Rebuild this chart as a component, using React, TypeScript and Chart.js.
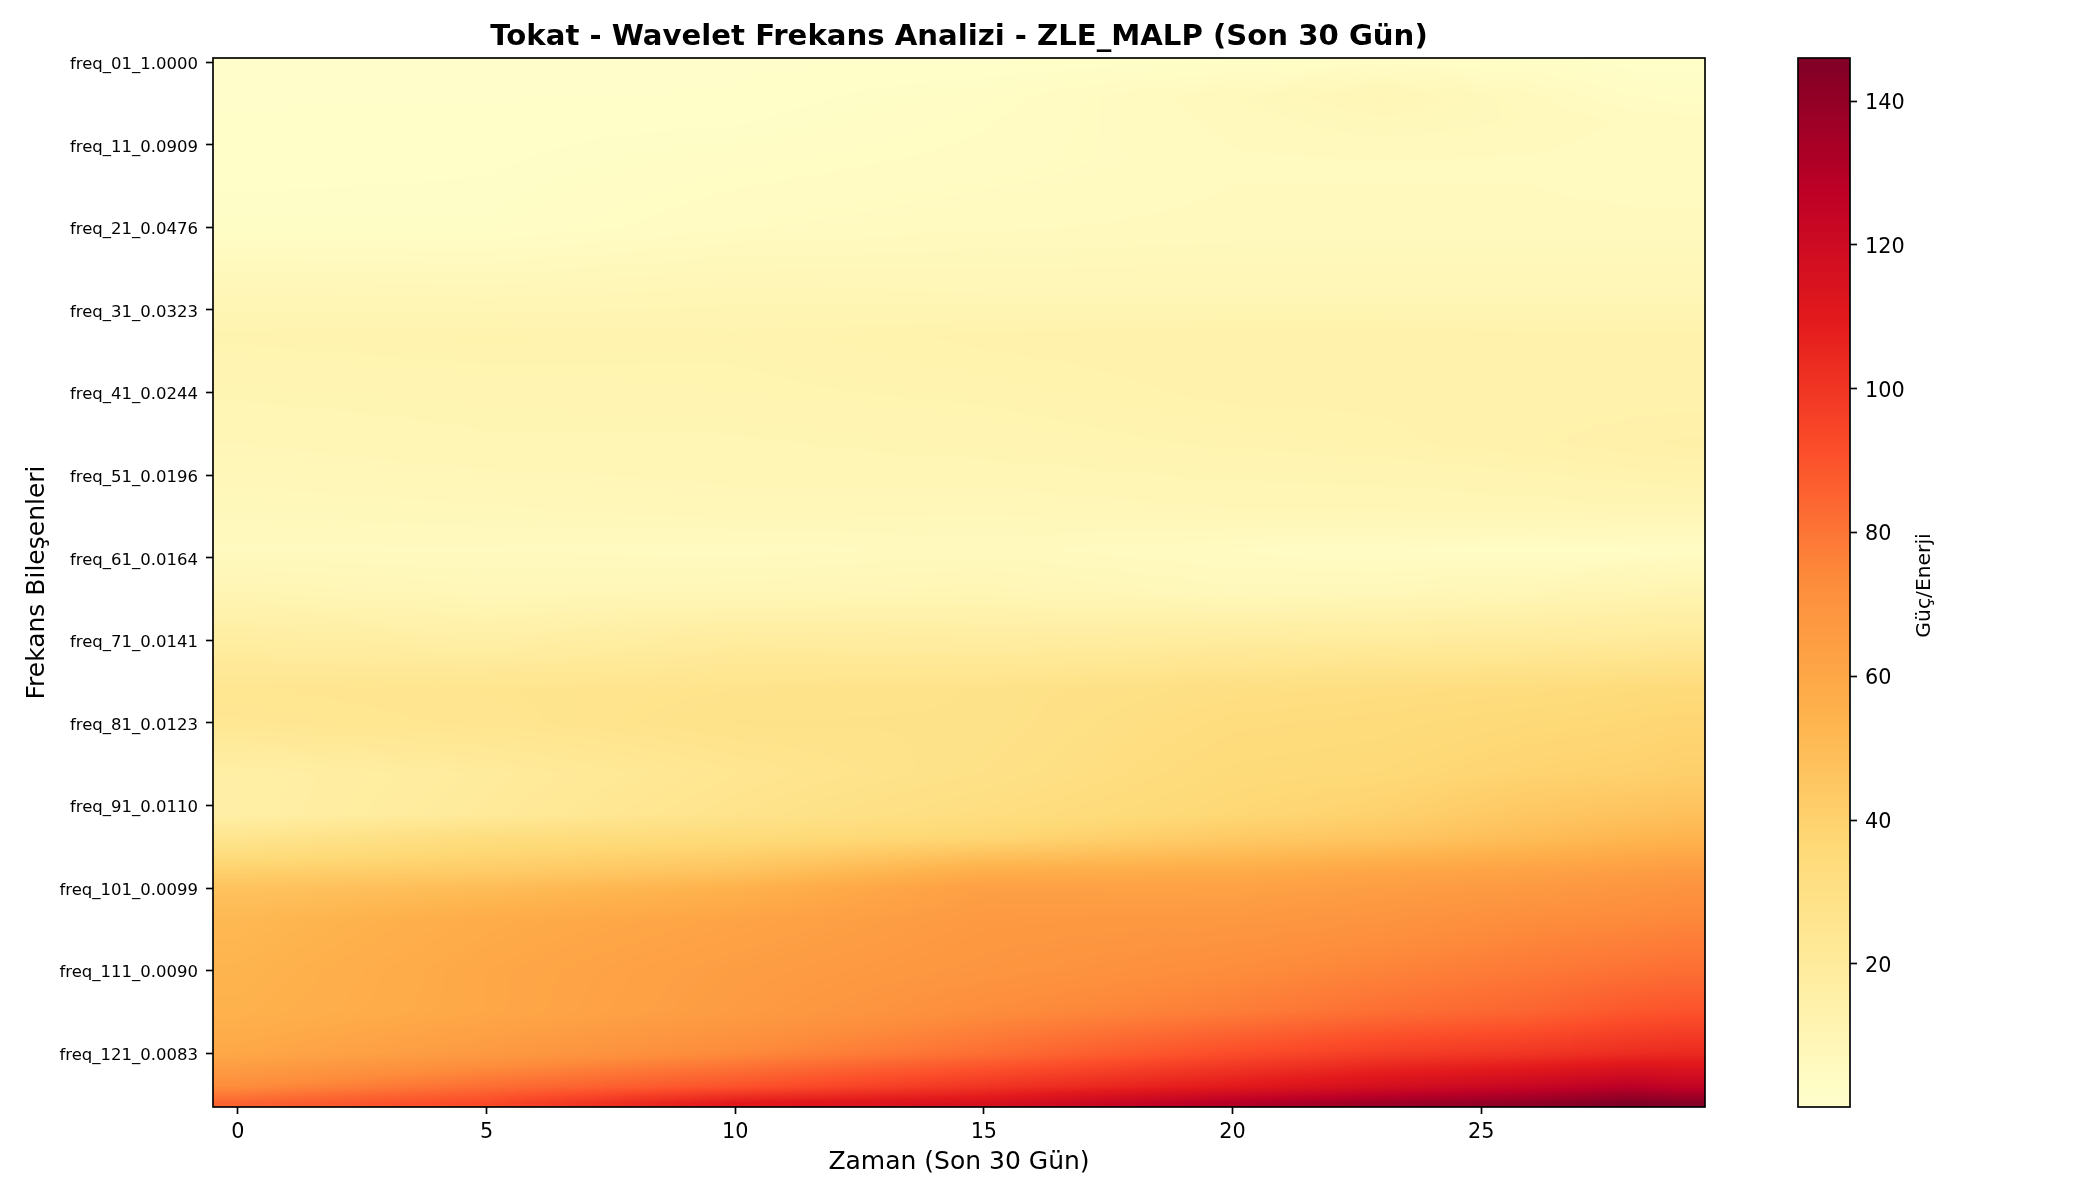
import React, { useEffect, useRef } from "react";
import { Chart, registerables } from "chart.js";

Chart.register(...registerables);

const FONT = "'DejaVu Sans'";

const chartTitle = "Tokat - Wavelet Frekans Analizi - ZLE_MALP (Son 30 Gün)";
const xAxisTitle = "Zaman (Son 30 Gün)";
const yAxisTitle = "Frekans Bileşenleri";
const colorbarTitle = "Güç/Enerji";

const xTickValues = [0, 5, 10, 15, 20, 25];
const yTickValues = [0, 10, 20, 30, 40, 50, 60, 70, 80, 90, 100, 110, 120];
const yTickLabels = [
  "freq_01_1.0000", "freq_11_0.0909", "freq_21_0.0476", "freq_31_0.0323",
  "freq_41_0.0244", "freq_51_0.0196", "freq_61_0.0164", "freq_71_0.0141",
  "freq_81_0.0123", "freq_91_0.0110", "freq_101_0.0099", "freq_111_0.0090",
  "freq_121_0.0083",
];
const colorbarTicks = [20, 40, 60, 80, 100, 120, 140];
const colorMin = 0.1;
const colorMax = 146;
const ylOrRd = ["#ffffcc", "#ffeda0", "#fed976", "#feb24c", "#fd8d3c", "#fc4e2a", "#e31a1c", "#bd0026", "#800026"];

const sampledDays = [0, 5, 10, 15, 20, 23, 26, 28, 29];
const sampledRows = [0, 4, 7, 12, 20, 28, 33, 40, 46, 54, 59, 64, 70, 76, 80, 86, 91, 94, 98, 100, 104, 110, 115, 120, 124, 126];

const row000 = [1, 1, 1, 1, 2, 3, 2.5, 1.5, 1.5];
const row004 = [1, 1, 1.2, 3, 6.5, 9, 6, 3.5, 3];
const row007 = [1.2, 1.5, 1.8, 3.5, 6, 7.5, 6.5, 5.5, 5];
const row012 = [1.5, 1.8, 3, 4, 5.5, 5.5, 5.5, 5, 5];
const row020 = [2.5, 2.5, 4.5, 5.5, 6, 6, 6, 6, 6];
const row028 = [9, 8.5, 9.5, 9, 9, 9, 9, 9, 9];
const row033 = [12, 12.5, 12, 13, 13.5, 13.5, 13, 13, 13];
const row040 = [10.5, 11, 11.5, 12, 13, 13, 13, 13, 13];
const row046 = [9, 10, 10, 11, 12, 12.5, 13.5, 14.5, 15];
const row054 = [7, 7.5, 8.5, 8, 9, 9, 9.5, 10, 10];
const row059 = [5.5, 5.5, 5, 6, 4.5, 3.5, 3, 3.2, 3.5];
const row064 = [10, 8, 8.5, 9.5, 7, 7.5, 9, 10.5, 11];
const row070 = [18, 16, 19, 18, 19, 19.5, 20, 20.5, 21];
const row076 = [25, 26, 27, 28, 31, 32, 33, 34.5, 35];
const row080 = [24, 25.5, 28, 28, 33, 34, 36, 37, 38];
const row086 = [16, 20, 25, 29, 35, 36, 39, 40, 41];
const row091 = [16, 21, 27, 32, 37, 40, 45, 47, 48];
const row094 = [26, 33, 35, 38, 44, 46, 50, 53, 54];
const row098 = [41, 43, 47, 57, 58, 61, 63, 65, 66];
const row100 = [47, 50, 55, 64, 63, 65, 67, 69, 70];
const row104 = [52, 58, 62, 67, 68, 70, 73, 74, 75];
const row110 = [54, 60, 65, 69, 73, 76, 79, 81, 82];
const row115 = [55, 60, 66, 73, 78, 82, 85, 89, 90];
const row120 = [60, 67, 74, 82, 92, 97, 100, 103, 104];
const row124 = [73, 82, 90, 100, 110, 117, 123, 128, 125];
const row126 = [85, 93, 110, 115, 130, 137, 141, 146, 144];

const rowValues = [
  row000, row004, row007, row012, row020, row028, row033, row040, row046, row054,
  row059, row064, row070, row076, row080, row086, row091, row094, row098, row100,
  row104, row110, row115, row120, row124, row126,
];

const hexToRgb = (h: string) => [1, 3, 5].map((i) => parseInt(h.slice(i, i + 2), 16));
const rampRgb = ylOrRd.map(hexToRgb);

function colorFor(v: number): number[] {
  const t = Math.min(1, Math.max(0, (v - colorMin) / (colorMax - colorMin))) * (rampRgb.length - 1);
  const i = Math.min(rampRgb.length - 2, Math.floor(t));
  const f = t - i;
  return rampRgb[i].map((c, k) => c + (rampRgb[i + 1][k] - c) * f);
}

function bracket(list: number[], value: number): [number, number] {
  if (value <= list[0]) return [0, 0];
  for (let i = 0; i < list.length - 1; i++) {
    if (value <= list[i + 1]) return [i, (value - list[i]) / (list[i + 1] - list[i])];
  }
  return [list.length - 2, 1];
}

const heatmapPoints = sampledRows.flatMap((row, r) =>
  sampledDays.map((day, c) => ({ x: day, y: row, v: rowValues[r][c] }))
);

const heatmapPlugin = {
  id: "heatmapImage",
  beforeDatasetsDraw(chart: any) {
    const { ctx, chartArea, scales } = chart;
    const w = Math.round(chartArea.right - chartArea.left);
    const h = Math.round(chartArea.bottom - chartArea.top);
    const off = document.createElement("canvas");
    off.width = w;
    off.height = h;
    const offCtx = off.getContext("2d")!;
    const img = offCtx.createImageData(w, h);
    const xs = Array.from({ length: w }, (_, px) => bracket(sampledDays, scales.x.getValueForPixel(chartArea.left + px + 0.5)));
    for (let py = 0; py < h; py++) {
      const [r, fr] = bracket(sampledRows, scales.y.getValueForPixel(chartArea.top + py + 0.5));
      const a = rowValues[r];
      const b = rowValues[r + 1] ?? a;
      for (let px = 0; px < w; px++) {
        const [c, fc] = xs[px];
        const top = a[c] + (a[c + 1] - a[c]) * fc;
        const bot = b[c] + (b[c + 1] - b[c]) * fc;
        const rgb = colorFor(top + (bot - top) * fr);
        const o = (py * w + px) * 4;
        img.data[o] = rgb[0];
        img.data[o + 1] = rgb[1];
        img.data[o + 2] = rgb[2];
        img.data[o + 3] = 255;
      }
    }
    offCtx.putImageData(img, 0, 0);
    ctx.drawImage(off, chartArea.left, chartArea.top);
  },
};

const framePlugin = {
  id: "frame",
  afterDraw(chart: any) {
    const { ctx, chartArea: a } = chart;
    ctx.save();
    ctx.strokeStyle = "#000";
    ctx.lineWidth = 1.67;
    ctx.strokeRect(a.left, a.top, a.right - a.left, a.bottom - a.top);
    ctx.restore();
  },
};

// Matplotlib centres tick text slightly lower than the canvas "middle" baseline does.
const tickLabelShiftPlugin = {
  id: "tickLabelShift",
  beforeDraw(chart: any) {
    const scale = chart.scales.y;
    scale.getLabelItems(chart.chartArea).forEach((item: any) => {
      item.options.translation = [item.options.translation[0], item.options.translation[1] + 2.5];
    });
  },
};

const colorbarLabelPlugin = {
  id: "colorbarLabel",
  afterDraw(chart: any) {
    const { ctx, chartArea: a } = chart;
    ctx.save();
    ctx.translate(a.right + 75, (a.top + a.bottom) / 2 + 3);
    ctx.rotate(-Math.PI / 2);
    ctx.textAlign = "center";
    ctx.textBaseline = "middle";
    ctx.fillStyle = "#000";
    ctx.font = `20.3px ${FONT}`;
    ctx.fillText(colorbarTitle, 0, 0);
    ctx.restore();
  },
};

const tickGrid = { display: true, drawOnChartArea: false, drawTicks: true, tickLength: 7, tickColor: "#000", tickWidth: 1.67 };

export default function App() {
  const mainRef = useRef<HTMLCanvasElement>(null);
  const barRef = useRef<HTMLCanvasElement>(null);

  useEffect(() => {
    const main = new Chart(mainRef.current!, {
      type: "scatter",
      data: { datasets: [{ label: "Güç/Enerji", data: heatmapPoints, pointRadius: 0, showLine: false }] },
      plugins: [heatmapPlugin, framePlugin, tickLabelShiftPlugin],
      options: {
        animation: false,
        responsive: false,
        devicePixelRatio: 1,
        layout: { padding: { left: 0, right: 395, top: 0, bottom: 0 } },
        plugins: {
          legend: { display: false },
          tooltip: { enabled: false },
          title: {
            display: true,
            text: chartTitle,
            color: "#000",
            fullSize: false,
            font: { family: FONT, size: 29.17, weight: "bold", lineHeight: 1.2 },
            padding: { top: 19.8, bottom: 3.2 },
          },
        },
        scales: {
          x: {
            type: "linear",
            min: -0.5,
            max: 29.5,
            grid: tickGrid,
            border: { display: false },
            afterBuildTicks: (s: any) => { s.ticks = xTickValues.map((value) => ({ value })); },
            afterFit: (s: any) => { s.height = 93; },
            ticks: {
              color: "#000",
              font: { family: FONT, size: 20.8 },
              padding: 6,
              maxRotation: 0,
              autoSkip: false,
              callback: (v: any) => String(v),
            },
            title: {
              display: true,
              text: xAxisTitle,
              color: "#000",
              font: { family: FONT, size: 25, lineHeight: 1.2 },
              padding: { top: 0, bottom: 23 },
            },
          },
          y: {
            type: "linear",
            reverse: true,
            min: -0.5,
            max: 126.5,
            grid: tickGrid,
            border: { display: false },
            afterBuildTicks: (s: any) => { s.ticks = yTickValues.map((value) => ({ value })); },
            afterFit: (s: any) => { s.width = 213; },
            ticks: {
              color: "#000",
              font: { family: FONT, size: 16.5 },
              padding: 8,
              autoSkip: false,
              callback: (v: any) => yTickLabels[yTickValues.indexOf(v)] ?? "",
            },
            title: {
              display: true,
              text: yAxisTitle,
              color: "#000",
              font: { family: FONT, size: 25, lineHeight: 1.2 },
              padding: { top: 22, bottom: 0 },
            },
          },
        },
      },
    } as any);

    const bar = new Chart(barRef.current!, {
      type: "bar",
      data: {
        labels: [colorbarTitle],
        datasets: [{
          label: colorbarTitle,
          data: [[colorMin, colorMax]],
          barPercentage: 1,
          categoryPercentage: 1,
          borderWidth: 0,
          backgroundColor: (ctx: any) => {
            const { chart } = ctx;
            if (!chart.chartArea) return ylOrRd[0];
            const y = chart.scales.y;
            const g = chart.ctx.createLinearGradient(0, y.getPixelForValue(colorMin), 0, y.getPixelForValue(colorMax));
            ylOrRd.forEach((c, i) => g.addColorStop(i / (ylOrRd.length - 1), c));
            return g;
          },
        }],
      },
      plugins: [framePlugin, colorbarLabelPlugin, tickLabelShiftPlugin],
      options: {
        animation: false,
        responsive: false,
        devicePixelRatio: 1,
        layout: { padding: { left: 98, right: 0, top: 58, bottom: 93 } },
        plugins: { legend: { display: false }, tooltip: { enabled: false }, title: { display: false } },
        scales: {
          x: { display: false },
          y: {
            type: "linear",
            position: "right",
            min: colorMin,
            max: colorMax,
            grid: tickGrid,
            border: { display: false },
            afterBuildTicks: (s: any) => { s.ticks = colorbarTicks.map((value) => ({ value })); },
            afterFit: (s: any) => { s.width = 250; },
            ticks: {
              color: "#000",
              font: { family: FONT, size: 20.8 },
              padding: 8,
              autoSkip: false,
              callback: (v: any) => String(v),
            },
          },
        },
      },
    } as any);

    return () => {
      main.destroy();
      bar.destroy();
    };
  }, []);

  return (
    <div style={{ position: "absolute", left: 0, top: 0, width: 2100, height: 1200, background: "#fff", overflow: "hidden" }}>
      <canvas ref={mainRef} width={2100} height={1200} style={{ position: "absolute", left: 0, top: 0 }} />
      <canvas ref={barRef} width={400} height={1200} style={{ position: "absolute", left: 1700, top: 0 }} />
    </div>
  );
}
